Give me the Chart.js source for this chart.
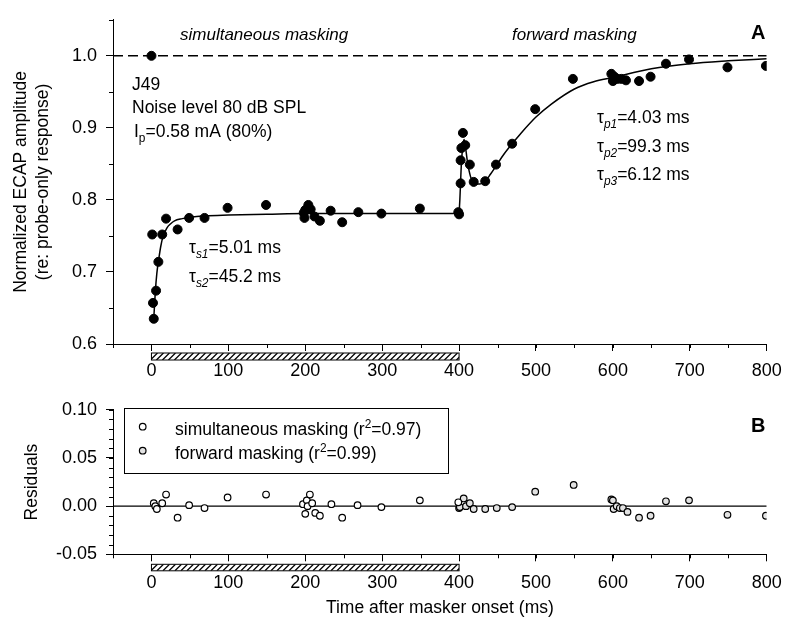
<!DOCTYPE html>
<html>
<head>
<meta charset="utf-8">
<script src="https://cdn.jsdelivr.net/npm/chart.js@4.4.0/dist/chart.umd.min.js"></script>
<style>
body { margin: 0; background: #fff; }
#wrap { position: relative; width: 800px; height: 639px; }
#chartA { position: absolute; left: 0; top: 0; }
#chartB { position: absolute; left: 0; top: 390px; }
</style>
</head>
<body>
<div id="wrap">
  <canvas id="chartA" width="800" height="390"></canvas>
  <canvas id="chartB" width="800" height="249"></canvas>
</div>
<script>
// panel A: normalized ECAP amplitude, simultaneous masking part
var simTime = [0, 1, 2, 3, 6, 9, 14, 19, 34, 49, 69, 99, 149, 198, 199, 200, 204, 207, 212, 219, 233, 248, 269, 299, 349, 399]
var simAmp = [1.000, 0.752, 0.657, 0.635, 0.674, 0.714, 0.752, 0.774, 0.759, 0.775, 0.775, 0.789, 0.793, 0.782, 0.775, 0.786, 0.793, 0.787, 0.777, 0.771, 0.785, 0.769, 0.783, 0.781, 0.788, 0.783]

// forward masking part
var fwdTime = [400, 402, 402, 403, 405, 408, 414, 419, 434, 448, 469, 499, 548, 598, 600, 602, 606, 611, 617, 634, 649, 669, 699, 749, 799]
var fwdAmp = [0.780, 0.823, 0.855, 0.872, 0.893, 0.876, 0.849, 0.825, 0.826, 0.849, 0.878, 0.926, 0.968, 0.975, 0.965, 0.971, 0.968, 0.968, 0.966, 0.965, 0.971, 0.989, 0.995, 0.984, 0.986]

// fitted curves
var simFitTime = [3, 5, 7, 9, 12, 15, 20, 25, 30, 40, 50, 70, 100, 150, 200, 300, 400]
var simFitAmp = [0.635, 0.672, 0.698, 0.714, 0.735, 0.749, 0.761, 0.767, 0.771, 0.774, 0.776, 0.778, 0.779, 0.780, 0.781, 0.781, 0.781]
var fwdFitTime = [400, 401, 403, 405, 406.5, 408, 411, 415, 420, 427, 434, 441, 448, 458, 469, 480, 500, 520, 550, 575, 600, 650, 700, 750, 800]
var fwdFitAmp = [0.781, 0.800, 0.850, 0.876, 0.884, 0.876, 0.852, 0.832, 0.822, 0.822, 0.826, 0.836, 0.847, 0.863, 0.878, 0.892, 0.915, 0.933, 0.954, 0.964, 0.970, 0.982, 0.989, 0.993, 0.996]

// panel B: residuals
var simResTime = [3, 5, 7, 14, 19, 34, 49, 69, 99, 149, 197, 200, 202, 203, 206, 209, 213, 219, 234, 248, 268, 299, 349, 399]
var simRes = [0.003, 0.000, -0.003, 0.003, 0.012, -0.012, 0.001, -0.002, 0.009, 0.012, 0.002, -0.008, 0.006, 0.000, 0.012, 0.003, -0.007, -0.010, 0.002, -0.012, 0.001, -0.001, 0.006, 0.004]
var fwdResTime = [400, 401, 406, 409, 414, 419, 434, 449, 469, 499, 549, 598, 600, 601, 605, 609, 613, 619, 634, 649, 669, 699, 749, 799]
var fwdRes = [-0.002, -0.001, 0.008, 0.000, 0.003, -0.003, -0.003, -0.002, -0.001, 0.015, 0.022, 0.007, 0.006, -0.003, 0.000, -0.002, -0.002, -0.006, -0.012, -0.010, 0.005, 0.006, -0.009, -0.010]

// reference lines, masker bar, ticks
var refTime = [-50, 800]
var refProbe = [1.0, 1.0]
var refZero = [0, 0]
var masker = [0, 400]
var xTicks = [0, 100, 200, 300, 400, 500, 600, 700, 800]
var yTicksA = [0.6, 0.7, 0.8, 0.9, 1.0]
var yTicksB = [-0.05, 0, 0.05, 0.10]

var FONT = '"Liberation Sans", Arial, sans-serif'

function pts(xs, ys) {
    return xs.map(function (x, i) { return {x: x, y: ys[i]} })
}

function minorTicks(chart, id, from, to, step, len) {
    var s = chart.scales[id]
    var ctx = chart.ctx
    var n = Math.round((to - from) / step)
    ctx.save()
    ctx.strokeStyle = '#000'
    ctx.lineWidth = 1
    ctx.beginPath()
    for (var i = 0; i <= n; i++) {
        var p = Math.round(s.getPixelForValue(from + i * step)) + 0.5
        if (s.isHorizontal()) {
            ctx.moveTo(p, s.top)
            ctx.lineTo(p, s.top + len)
        } else {
            ctx.moveTo(s.right, p)
            ctx.lineTo(s.right - len, p)
        }
    }
    ctx.stroke()
    ctx.restore()
}

function hatchBar(chart, dy, h) {
    var s = chart.scales.x
    var ctx = chart.ctx
    var x0 = s.getPixelForValue(masker[0])
    var x1 = s.getPixelForValue(masker[1])
    var y0 = chart.chartArea.bottom + dy
    ctx.save()
    ctx.beginPath()
    ctx.rect(x0, y0, x1 - x0, h)
    ctx.clip()
    ctx.strokeStyle = '#000'
    ctx.lineWidth = 1.3
    ctx.beginPath()
    for (var x = x0 - h; x < x1 + h; x += 6) {
        ctx.moveTo(x, y0 + h)
        ctx.lineTo(x + h, y0)
    }
    ctx.stroke()
    ctx.restore()
    ctx.save()
    ctx.strokeStyle = '#000'
    ctx.lineWidth = 1
    ctx.strokeRect(x0, y0, x1 - x0, h)
    ctx.restore()
}

// text with sub/superscripts
function rich(ctx, x, y, parts, size) {
    parts.forEach(function (p) {
        var fs = (p.sub || p.sup) ? size * 0.68 : size
        ctx.font = (p.it ? 'italic ' : '') + (p.b ? 'bold ' : '') + fs + 'px ' + FONT
        var dy = p.sub ? size * 0.3 : (p.sup ? -size * 0.42 : 0)
        ctx.fillText(p.t, x, y + dy)
        x += ctx.measureText(p.t).width
    })
}

function xAxis(height, pad, title) {
    return {
        type: 'linear',
        min: -50,
        max: 800,
        afterBuildTicks: function (axis) { axis.ticks = xTicks.map(function (v) { return {value: v} }) },
        afterFit: function (axis) { axis.height = height },
        border: {display: true, color: '#000', width: 1},
        grid: {drawOnChartArea: false, drawTicks: true, tickLength: 7, tickColor: '#000'},
        ticks: {autoSkip: false, maxRotation: 0, padding: pad, color: '#000', font: {family: FONT, size: 18}},
        title: title
    }
}

function yAxis(min, max, ticks, digits, title) {
    return {
        type: 'linear',
        min: min,
        max: max,
        afterBuildTicks: function (axis) { axis.ticks = ticks.map(function (v) { return {value: v} }) },
        afterFit: function (axis) { axis.width = 113 },
        border: {display: true, color: '#000', width: 1},
        grid: {drawOnChartArea: false, drawTicks: true, tickLength: 7, tickColor: '#000'},
        ticks: {padding: 9, color: '#000', font: {family: FONT, size: 18},
            callback: function (v) { return v.toFixed(digits) }},
        title: title
    }
}

//Painel A//
var decorA = {
    id: 'decorA',
    afterDraw: function (chart) {
        var ctx = chart.ctx
        minorTicks(chart, 'x', -50, 750, 50, 4)
        minorTicks(chart, 'y', 0.65, 1.05, 0.1, 4)
        hatchBar(chart, 9, 7)
        ctx.save()
        ctx.fillStyle = '#000'
        ctx.textBaseline = 'alphabetic'
        ctx.textAlign = 'left'
        rich(ctx, 180, 40, [{t: 'simultaneous masking', it: true}], 17)
        rich(ctx, 512, 40, [{t: 'forward masking', it: true}], 17)
        rich(ctx, 751, 39, [{t: 'A', b: true}], 20)
        rich(ctx, 132, 90, [{t: 'J49'}], 17.5)
        rich(ctx, 132, 113, [{t: 'Noise level 80 dB SPL'}], 17.5)
        rich(ctx, 134, 137, [{t: 'I'}, {t: 'p', sub: true}, {t: '=0.58 mA (80%)'}], 17.5)
        rich(ctx, 189, 253, [{t: 'τ'}, {t: 's1', sub: true, it: true}, {t: '=5.01 ms'}], 17.5)
        rich(ctx, 189, 282, [{t: 'τ'}, {t: 's2', sub: true, it: true}, {t: '=45.2 ms'}], 17.5)
        rich(ctx, 597, 123, [{t: 'τ'}, {t: 'p1', sub: true, it: true}, {t: '=4.03 ms'}], 17.5)
        rich(ctx, 597, 152, [{t: 'τ'}, {t: 'p2', sub: true, it: true}, {t: '=99.3 ms'}], 17.5)
        rich(ctx, 597, 180, [{t: 'τ'}, {t: 'p3', sub: true, it: true}, {t: '=6.12 ms'}], 17.5)
        ctx.restore()
    }
}

var chartA = new Chart(document.getElementById('chartA'), {
    type: 'scatter',
    data: {
        datasets: [
            {data: pts(simTime, simAmp), backgroundColor: '#000', borderColor: '#000', pointRadius: 4.5, order: 0},
            {data: pts(fwdTime, fwdAmp), backgroundColor: '#000', borderColor: '#000', pointRadius: 4.5, order: 0},
            {data: pts(simFitTime, simFitAmp), showLine: true, pointRadius: 0, borderColor: '#000', borderWidth: 1.5, cubicInterpolationMode: 'monotone', order: 1},
            {data: pts(fwdFitTime, fwdFitAmp), showLine: true, pointRadius: 0, borderColor: '#000', borderWidth: 1.5, cubicInterpolationMode: 'monotone', order: 1},
            {data: pts(refTime, refProbe), showLine: true, pointRadius: 0, borderColor: '#000', borderWidth: 1.4, borderDash: [10, 5], order: 2}
        ]
    },
    options: {
        responsive: false,
        animation: false,
        layout: {padding: {left: 0, right: 33.3, top: 15, bottom: 0}},
        plugins: {legend: {display: false}, tooltip: {enabled: false}},
        scales: {
            x: xAxis(46, 9, {display: false}),
            y: yAxis(0.6, 1.05, yTicksA, 1, {
                display: true,
                text: ['Normalized ECAP amplitude', '(re: probe-only response)'],
                color: '#000',
                font: {family: FONT, size: 17.5, lineHeight: 1.25},
                padding: {top: 10, bottom: 0}
            })
        }
    },
    plugins: [decorA]
})

//Painel B//
var decorB = {
    id: 'decorB',
    afterDraw: function (chart) {
        var ctx = chart.ctx
        minorTicks(chart, 'x', -50, 750, 50, 4)
        minorTicks(chart, 'y', -0.05, 0.10, 0.01, 4)
        hatchBar(chart, 10, 6.5)
        ctx.save()
        ctx.strokeStyle = '#000'
        ctx.lineWidth = 1
        ctx.fillStyle = '#fff'
        ctx.fillRect(124.5, 18.5, 324, 65)
        ctx.strokeRect(124.5, 18.5, 324, 65)
        ctx.lineWidth = 1.2
        ctx.beginPath(); ctx.arc(142.7, 36.7, 3.3, 0, Math.PI * 2); ctx.fillStyle = '#fff'; ctx.fill(); ctx.stroke()
        ctx.beginPath(); ctx.arc(142.7, 60.7, 3.3, 0, Math.PI * 2); ctx.fillStyle = '#e2e2e2'; ctx.fill(); ctx.stroke()
        ctx.fillStyle = '#000'
        ctx.textBaseline = 'alphabetic'
        ctx.textAlign = 'left'
        rich(ctx, 175, 45, [{t: 'simultaneous masking (r'}, {t: '2', sup: true}, {t: '=0.97)'}], 17.5)
        rich(ctx, 175, 69, [{t: 'forward masking (r'}, {t: '2', sup: true}, {t: '=0.99)'}], 17.5)
        rich(ctx, 751, 41.7, [{t: 'B', b: true}], 20)
        ctx.restore()
    }
}

var chartB = new Chart(document.getElementById('chartB'), {
    type: 'scatter',
    data: {
        datasets: [
            {data: pts(simResTime, simRes), backgroundColor: '#fff', borderColor: '#000', borderWidth: 1.2, pointRadius: 3.3, order: 0},
            {data: pts(fwdResTime, fwdRes), backgroundColor: '#e2e2e2', borderColor: '#000', borderWidth: 1.2, pointRadius: 3.3, order: 0},
            {data: pts(refTime, refZero), showLine: true, pointRadius: 0, borderColor: '#000', borderWidth: 1.2, order: 1}
        ]
    },
    options: {
        responsive: false,
        animation: false,
        layout: {padding: {left: 0, right: 33.3, top: 19.3, bottom: 0}},
        plugins: {legend: {display: false}, tooltip: {enabled: false}},
        scales: {
            x: xAxis(84.7, 11, {
                display: true,
                text: 'Time after masker onset (ms)',
                color: '#000',
                font: {family: FONT, size: 17.5, lineHeight: 1.2},
                padding: {top: 0, bottom: 20.5}
            }),
            y: yAxis(-0.05, 0.10, yTicksB, 2, {
                display: true,
                text: 'Residuals',
                color: '#000',
                font: {family: FONT, size: 17.5, lineHeight: 1.2},
                padding: {top: 21.5, bottom: 0}
            })
        }
    },
    plugins: [decorB]
})
</script>
</body>
</html>
